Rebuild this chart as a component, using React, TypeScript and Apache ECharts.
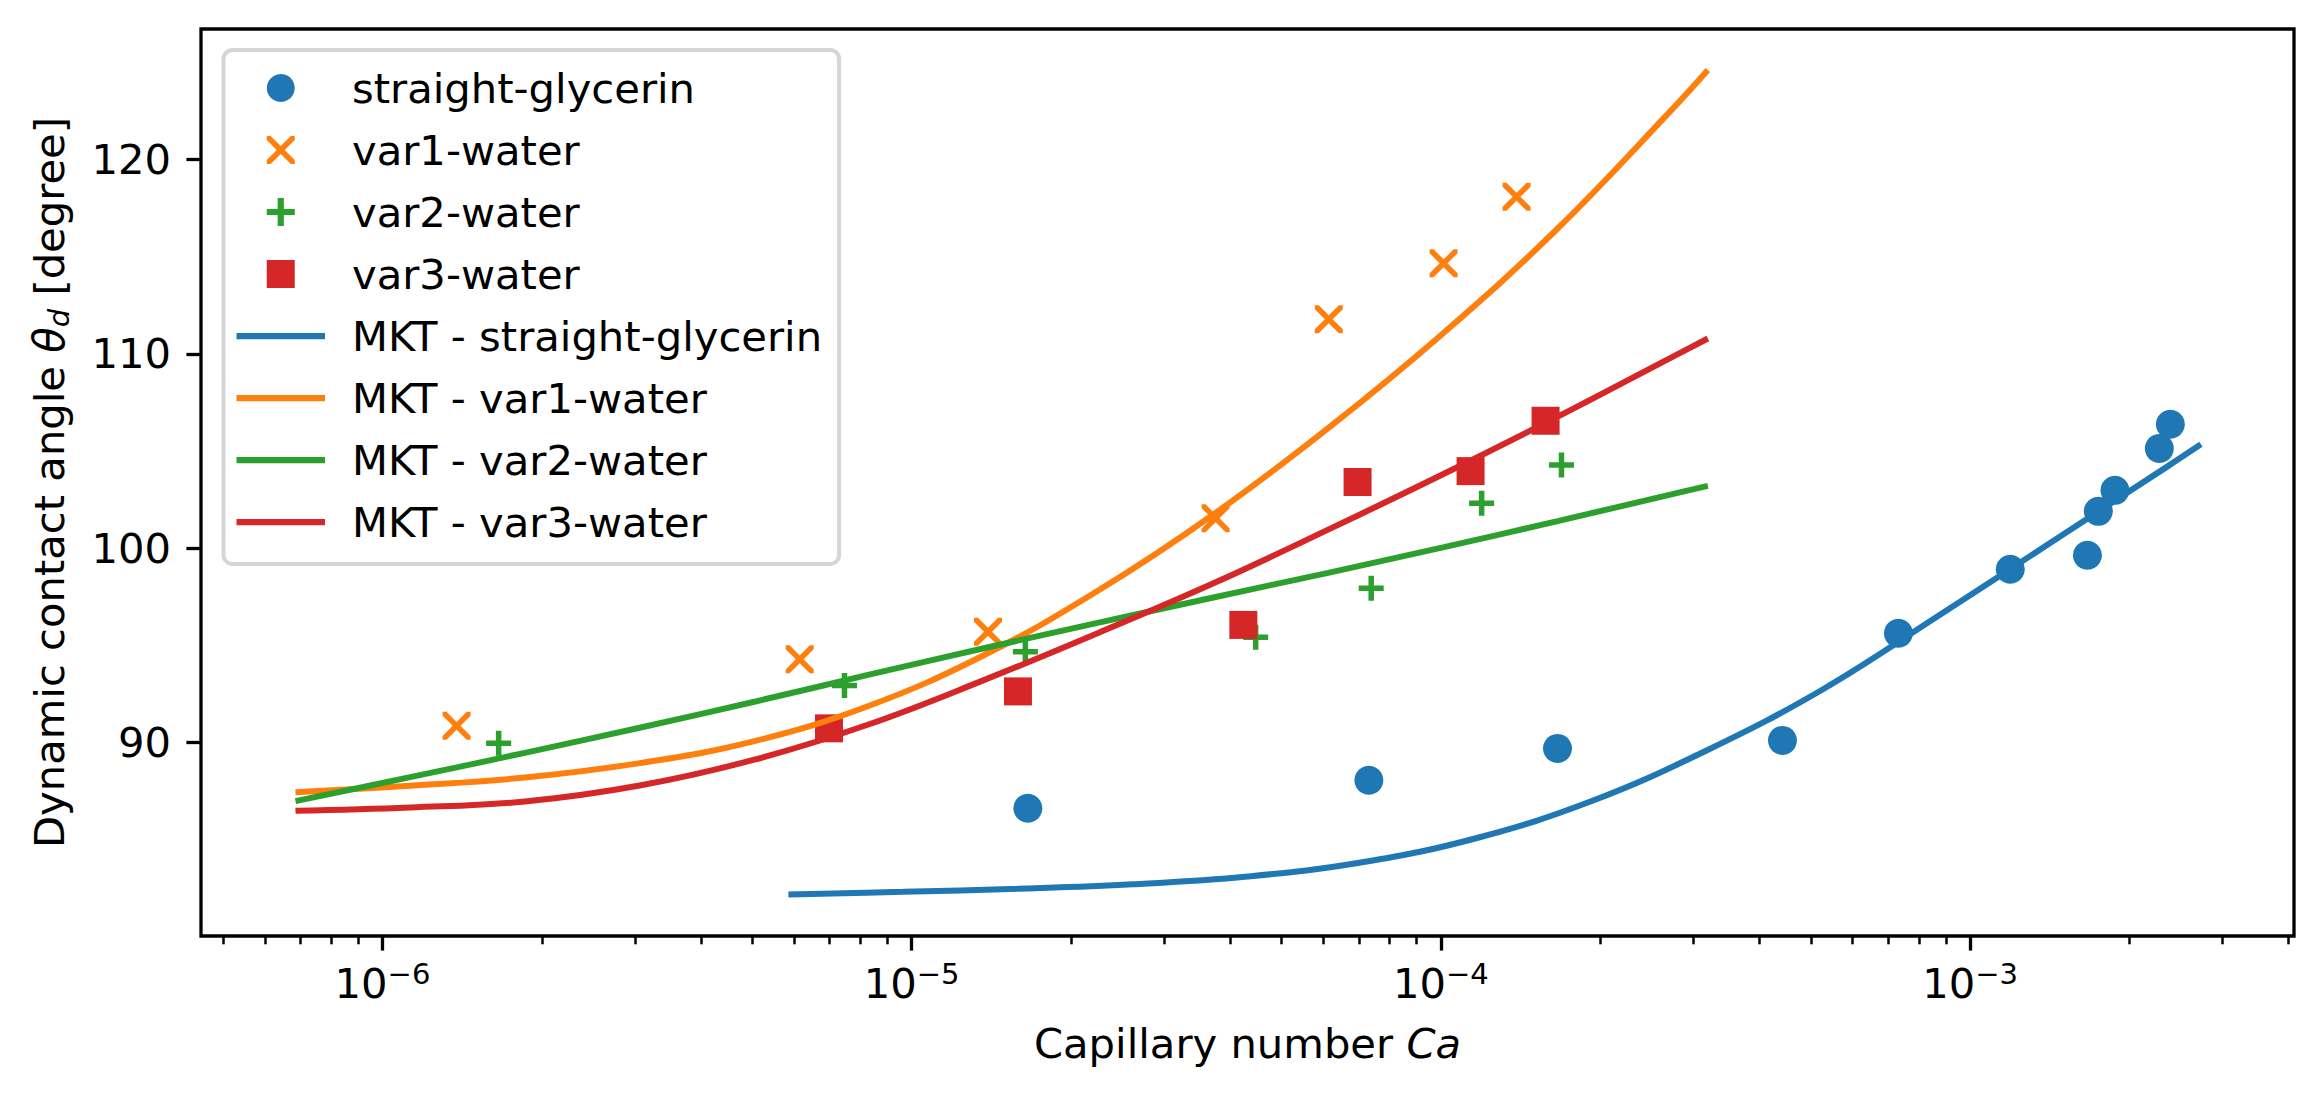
import React, { useEffect, useRef } from "react";
import * as echarts from "echarts";

const FONT = "DejaVu Sans";
const BLUE = "#1f77b4";
const ORANGE = "#ff7f0e";
const GREEN = "#2ca02c";
const RED = "#d62728";

// ---- measured data (Capillary number Ca, dynamic contact angle in degree) ----
const glycerinCa = [1.658e-5, 7.31e-5, 1.661e-4, 4.42e-4, 7.32e-4, 1.191e-3, 1.666e-3, 1.747e-3, 1.878e-3, 2.278e-3, 2.39e-3];
const glycerinTheta = [86.63, 88.07, 89.71, 90.12, 95.63, 98.92, 99.64, 101.9, 102.98, 105.14, 106.38];

const var1Ca = [1.381e-6, 6.144e-6, 1.394e-5, 3.753e-5, 6.14e-5, 1.012e-4, 1.39e-4];
const var1Theta = [90.87, 94.29, 95.71, 101.54, 111.78, 114.66, 118.08];

const var2Ca = [1.658e-6, 7.465e-6, 1.64e-5, 4.467e-5, 7.385e-5, 1.194e-4, 1.69e-4];
const var2Theta = [89.97, 92.95, 94.68, 95.42, 97.95, 102.32, 104.29];

const var3Ca = [6.98e-6, 1.588e-5, 4.234e-5, 6.96e-5, 1.138e-4, 1.577e-4];
const var3Theta = [90.74, 92.64, 96.06, 103.41, 103.97, 106.56];

// ---- MKT fit curves ----
const mktGlycerinCa = [5.85e-6, 9.64e-6, 1.589e-5, 2.617e-5, 4.312e-5, 7.103e-5, 1.17e-4, 1.928e-4, 3.177e-4, 5.235e-4, 8.626e-4, 1.421e-3, 2.342e-3, 2.73e-3];
const mktGlycerinTheta = [82.2, 82.33, 82.49, 82.72, 83.12, 83.85, 85.1, 87.0, 89.6, 92.7, 96.45, 100.3, 104.15, 105.35];

const mktWaterCa = [6.85e-7, 1.128e-6, 1.858e-6, 3.062e-6, 5.045e-6, 8.31e-6, 1.369e-5, 2.256e-5, 3.717e-5, 6.124e-5, 1.009e-4, 1.662e-4, 2.74e-4, 3.195e-4];
const mktVar1Theta = [87.45, 87.79, 88.21, 88.95, 90.08, 91.9, 94.5, 97.84, 101.74, 106.18, 111.05, 116.45, 122.6, 124.6];
const mktVar2Theta = [87.0, 88.23, 89.48, 90.77, 92.11, 93.5, 94.86, 96.18, 97.47, 98.74, 100.05, 101.4, 102.79, 103.21];
const mktVar3Theta = [86.5, 86.67, 86.98, 87.8, 89.13, 90.95, 93.22, 95.66, 98.2, 100.96, 103.81, 106.77, 109.85, 110.79];

// ---- axes ----
const xMajorTicks = [1e-6, 1e-5, 1e-4, 1e-3];
const yTicks = [90, 100, 110, 120];
const X_MIN = 4.541e-7;
const X_MAX = 4.093e-3;
const Y_MIN = 80.06;
const Y_MAX = 126.71;

const xMinorTicks: number[] = [];
for (let d = -7; d <= -3; d++) {
  for (let m = 2; m <= 9; m++) {
    const v = m * Math.pow(10, d);
    if (v >= X_MIN && v <= X_MAX) xMinorTicks.push(v);
  }
}

const PLUS = "path://M3.9,0H6.1V3.9H10V6.1H6.1V10H3.9V6.1H0V3.9H3.9Z";
const A = 1.4;
const CROSS = `path://M0,0H${A}L5,${5 - A}L${10 - A},0H10V${A}L${5 + A},5L10,${10 - A}V10H${10 - A}L5,${5 + A}L${A},10H0V${10 - A}L${5 - A},5L0,${A}Z`;
const SQUARE = "path://M0,0H10V10H0Z";
const LINE_ICON = "path://M0,0H88.5V6.25H0Z";

const zip = (xs: number[], ys: number[]) => xs.map((x, i) => [x, ys[i]]);

const scatter = (name: string, xs: number[], ys: number[], symbol: string, size: number, color: string) => ({
  name,
  type: "scatter",
  data: zip(xs, ys),
  symbol,
  symbolSize: size,
  itemStyle: { color, opacity: 1 },
  z: 2,
});

const line = (name: string, xs: number[], ys: number[], color: string) => ({
  name,
  type: "line",
  data: zip(xs, ys),
  symbol: "none",
  showSymbol: false,
  smooth: 0.4,
  lineStyle: { color, width: 6 },
  itemStyle: { color },
  z: 3,
});

const expFormatter = (v: number) => {
  const e = v > 0 ? Math.round(Math.log10(v)) : Math.round(v);
  return `{b|10}{s|\u2212${-e}}`;
};

const option: any = {
  animation: false,
  backgroundColor: "#ffffff",
  textStyle: { fontFamily: FONT, color: "#000" },
  grid: {
    left: 201,
    top: 29,
    width: 2093,
    height: 907,
    show: true,
    borderColor: "#000",
    borderWidth: 3.3,
    backgroundColor: "transparent",
    containLabel: false,
    outerBoundsMode: "none",
  },
  xAxis: [
    {
      type: "log",
      logBase: 10,
      min: X_MIN,
      max: X_MAX,
      position: "bottom",
      axisLine: { show: false },
      splitLine: { show: false },
      minorTick: { show: false },
      axisTick: {
        show: true,
        inside: false,
        length: 14.6,
        customValues: xMajorTicks,
        lineStyle: { color: "#000", width: 3.3 },
      },
      axisLabel: {
        show: true,
        customValues: xMajorTicks,
        margin: 23,
        formatter: expFormatter,
        rich: {
          b: { fontFamily: FONT, fontSize: 41.7, lineHeight: 48, color: "#000" },
          s: { fontFamily: FONT, fontSize: 29, lineHeight: 30, verticalAlign: "top", color: "#000" },
        },
      },
      name: "Capillary number {i|Ca}",
      nameLocation: "middle",
      nameGap: 83,
      nameTextStyle: {
        fontFamily: FONT,
        fontSize: 41.7,
        lineHeight: 48,
        color: "#000",
        rich: {
          i: { fontFamily: FONT, fontSize: 41.7, lineHeight: 48, fontStyle: "italic", color: "#000" },
        },
      },
    },
    {
      type: "log",
      logBase: 10,
      min: X_MIN,
      max: X_MAX,
      position: "bottom",
      gridIndex: 0,
      axisLine: { show: false },
      splitLine: { show: false },
      axisLabel: { show: false },
      axisTick: {
        show: true,
        inside: false,
        length: 8.3,
        customValues: xMinorTicks,
        lineStyle: { color: "#000", width: 2.5 },
      },
    },
  ],
  yAxis: {
    type: "value",
    min: Y_MIN,
    max: Y_MAX,
    axisLine: { show: false },
    splitLine: { show: false },
    axisTick: {
      show: true,
      inside: false,
      length: 14.6,
      customValues: yTicks,
      lineStyle: { color: "#000", width: 3.3 },
    },
    axisLabel: {
      show: true,
      customValues: yTicks,
      margin: 30,
      fontFamily: FONT,
      fontSize: 41.7,
      color: "#000",
    },
    name: "Dynamic contact angle {t|\u03b8}{d|d} [degree]",
    nameLocation: "middle",
    nameRotate: 90,
    nameGap: 128,
    nameTextStyle: {
      fontFamily: FONT,
      fontSize: 41.7,
      lineHeight: 48,
      color: "#000",
      rich: {
        t: { fontFamily: FONT, fontSize: 41.7, lineHeight: 48, fontStyle: "italic", color: "#000" },
        d: { fontFamily: FONT, fontSize: 29, lineHeight: 30, fontStyle: "italic", verticalAlign: "bottom", color: "#000" },
      },
    },
  },
  legend: {
    show: true,
    orient: "vertical",
    left: 223.5,
    top: 50,
    padding: [16, 17, 20, 13],
    itemWidth: 88.5,
    itemHeight: 28,
    itemGap: 18,
    backgroundColor: "#ffffff",
    borderColor: "#d5d5d5",
    borderWidth: 4,
    borderRadius: 9,
    selectedMode: false,
    textStyle: {
      fontFamily: FONT,
      fontSize: 41.7,
      lineHeight: 44,
      color: "#000",
      padding: [0, 0, 0, 22],
    },
    data: [
      { name: "straight-glycerin" },
      { name: "var1-water" },
      { name: "var2-water" },
      { name: "var3-water" },
      { name: "MKT - straight-glycerin", icon: LINE_ICON },
      { name: "MKT - var1-water", icon: LINE_ICON },
      { name: "MKT - var2-water", icon: LINE_ICON },
      { name: "MKT - var3-water", icon: LINE_ICON },
    ],
  },
  series: [
    scatter("straight-glycerin", glycerinCa, glycerinTheta, "circle", 29, BLUE),
    scatter("var1-water", var1Ca, var1Theta, CROSS, 28, ORANGE),
    scatter("var2-water", var2Ca, var2Theta, PLUS, 25, GREEN),
    scatter("var3-water", var3Ca, var3Theta, SQUARE, 28, RED),
    line("MKT - straight-glycerin", mktGlycerinCa, mktGlycerinTheta, BLUE),
    line("MKT - var1-water", mktWaterCa, mktVar1Theta, ORANGE),
    line("MKT - var2-water", mktWaterCa, mktVar2Theta, GREEN),
    line("MKT - var3-water", mktWaterCa, mktVar3Theta, RED),
  ],
};

export default function App() {
  const ref = useRef<HTMLDivElement>(null);
  useEffect(() => {
    if (!ref.current) return;
    const chart = echarts.init(ref.current, null, { renderer: "svg", width: 2323, height: 1100 });
    chart.setOption(option);
    return () => chart.dispose();
  }, []);
  return (
    <div
      ref={ref}
      style={{ position: "absolute", left: 0, top: 0, width: 2323, height: 1100, background: "#fff" }}
    />
  );
}
